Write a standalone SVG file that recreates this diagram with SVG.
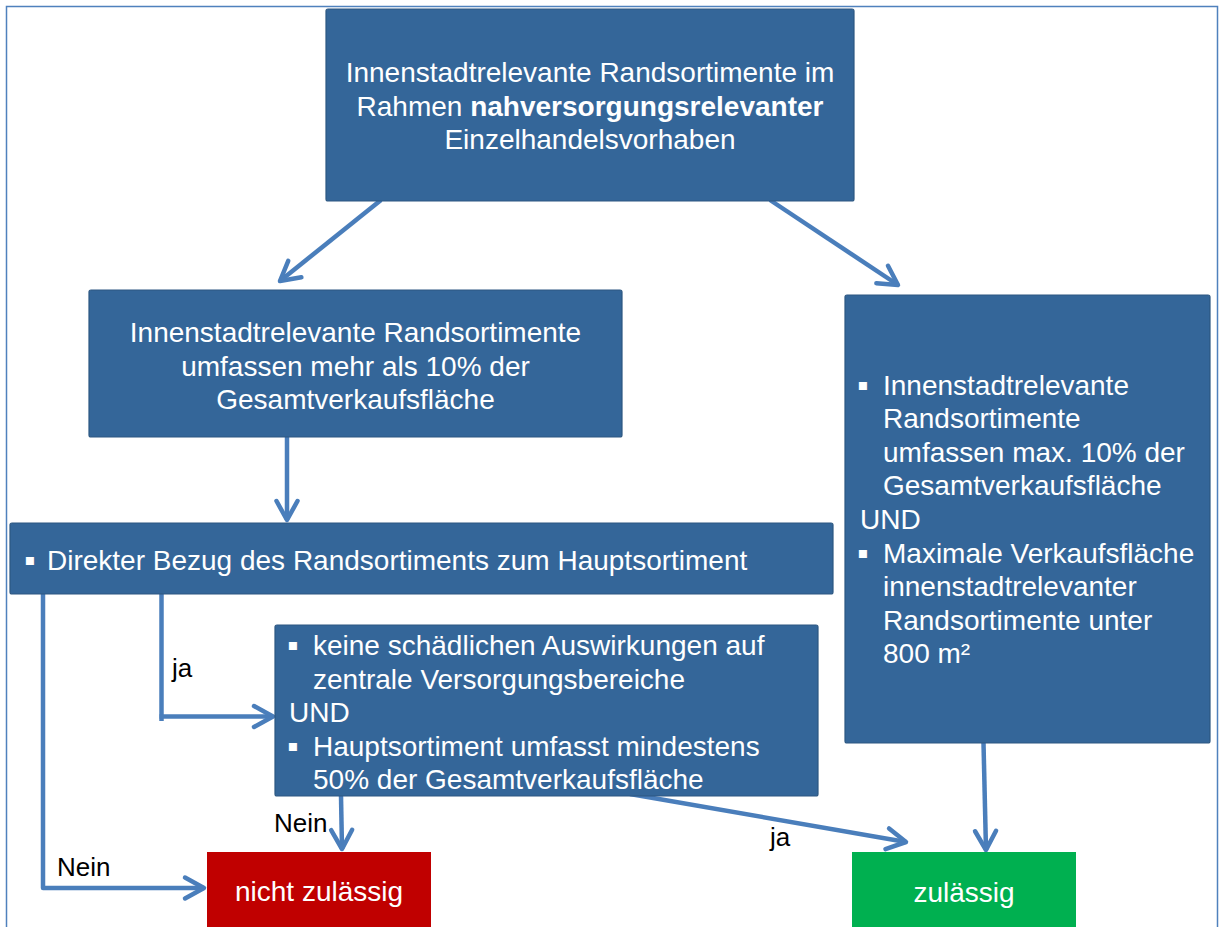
<svg xmlns="http://www.w3.org/2000/svg" width="1219" height="927" viewBox="0 0 1219 927">
<style>
.box{fill:#346699;stroke:#2c5782;stroke-width:1.2}
.t{font-family:"Liberation Sans",Arial,sans-serif;font-size:28px;fill:#ffffff}
.c{text-anchor:middle}
.b{font-family:"Liberation Sans","DejaVu Sans",sans-serif;font-size:32px;fill:#ffffff}
.lbl{font-family:"Liberation Sans",Arial,sans-serif;font-size:26px;fill:#000000}
.con{fill:none;stroke:#4a7ebb;stroke-width:4.5;stroke-linejoin:round}
</style>
<defs>
<marker id="ah" markerUnits="userSpaceOnUse" viewBox="-26 -16 32 32" refX="0" refY="0" markerWidth="32" markerHeight="32" orient="auto" overflow="visible">
<path d="M-19,-10.5 L0,0 L-19,10.5" fill="none" stroke="#4a7ebb" stroke-width="4.5" stroke-linecap="round" stroke-linejoin="round"/>
</marker>
</defs>
<rect x="0" y="0" width="1219" height="927" fill="#ffffff"/>
<rect x="6.5" y="6.5" width="1211" height="940" fill="none" stroke="#4f81bd" stroke-width="1.5"/>

<g id="connectors">
<line class="con" x1="381" y1="200" x2="280" y2="281" marker-end="url(#ah)"/>
<line class="con" x1="770" y1="200" x2="898" y2="285" marker-end="url(#ah)"/>
<line class="con" x1="287" y1="437" x2="287" y2="520" marker-end="url(#ah)"/>
<polyline class="con" points="161.5,594 161.5,721" />
<line class="con" x1="159.5" y1="716.5" x2="273" y2="716.5" marker-end="url(#ah)"/>
<polyline class="con" points="43,594 43,888 204,888" marker-end="url(#ah)"/>
<line class="con" x1="341" y1="796" x2="342" y2="849" marker-end="url(#ah)"/>
<line class="con" x1="630" y1="794" x2="906" y2="842" marker-end="url(#ah)"/>
<line class="con" x1="983.5" y1="743" x2="986" y2="850" marker-end="url(#ah)"/>
<text class="lbl" x="172" y="677">ja</text>
<text class="lbl" x="274" y="832">Nein</text>
<text class="lbl" x="57" y="876">Nein</text>
<text class="lbl" x="770" y="846">ja</text>
</g>

<g id="start">
<rect class="box" x="326" y="9" width="528" height="192" rx="2"/>
<text class="t c" x="590" y="82">Innenstadtrelevante Randsortimente im</text>
<text class="t c" x="590" y="115.6">Rahmen <tspan font-weight="bold">nahversorgungsrelevanter</tspan></text>
<text class="t c" x="590" y="149.2">Einzelhandelsvorhaben</text>
</g>

<g id="mehr10">
<rect class="box" x="89" y="290" width="533" height="147" rx="2"/>
<text class="t c" x="355.5" y="342">Innenstadtrelevante Randsortimente</text>
<text class="t c" x="355.5" y="375.6">umfassen mehr als 10% der</text>
<text class="t c" x="355.5" y="409.2">Gesamtverkaufsfläche</text>
</g>

<g id="bezug">
<rect class="box" x="10" y="523" width="823" height="71" rx="2"/>
<text class="b" x="24" y="571">▪</text>
<text class="t" x="47" y="570">Direkter Bezug des Randsortiments zum Hauptsortiment</text>
</g>

<g id="auswirkungen">
<rect class="box" x="275" y="625" width="543" height="171" rx="2"/>
<text class="b" x="287" y="656">▪</text>
<text class="t" x="313" y="655">keine schädlichen Auswirkungen auf</text>
<text class="t" x="313" y="688.6">zentrale Versorgungsbereiche</text>
<text class="t" x="289" y="722.2">UND</text>
<text class="b" x="287" y="756.8">▪</text>
<text class="t" x="313" y="755.8">Hauptsortiment umfasst mindestens</text>
<text class="t" x="313" y="789.4">50% der Gesamtverkaufsfläche</text>
</g>

<g id="max10">
<rect class="box" x="845" y="295" width="365" height="448" rx="2"/>
<text class="b" x="857" y="395.5">▪</text>
<text class="t" x="883" y="394.5">Innenstadtrelevante</text>
<text class="t" x="883" y="428.1">Randsortimente</text>
<text class="t" x="883" y="461.7">umfassen max. 10% der</text>
<text class="t" x="883" y="495.3">Gesamtverkaufsfläche</text>
<text class="t" x="860" y="528.9">UND</text>
<text class="b" x="857" y="563.5">▪</text>
<text class="t" x="883" y="562.5">Maximale Verkaufsfläche</text>
<text class="t" x="883" y="596.1">innenstadtrelevanter</text>
<text class="t" x="883" y="629.7">Randsortimente unter</text>
<text class="t" x="883" y="663.3">800 m²</text>
</g>

<g id="nicht-zulaessig">
<rect x="207" y="852" width="224" height="90" fill="#c00000"/>
<text class="t c" x="319" y="901">nicht zulässig</text>
</g>

<g id="zulaessig">
<rect x="852" y="852" width="224" height="90" fill="#00b050"/>
<text class="t c" x="964" y="902">zulässig</text>
</g>
</svg>
